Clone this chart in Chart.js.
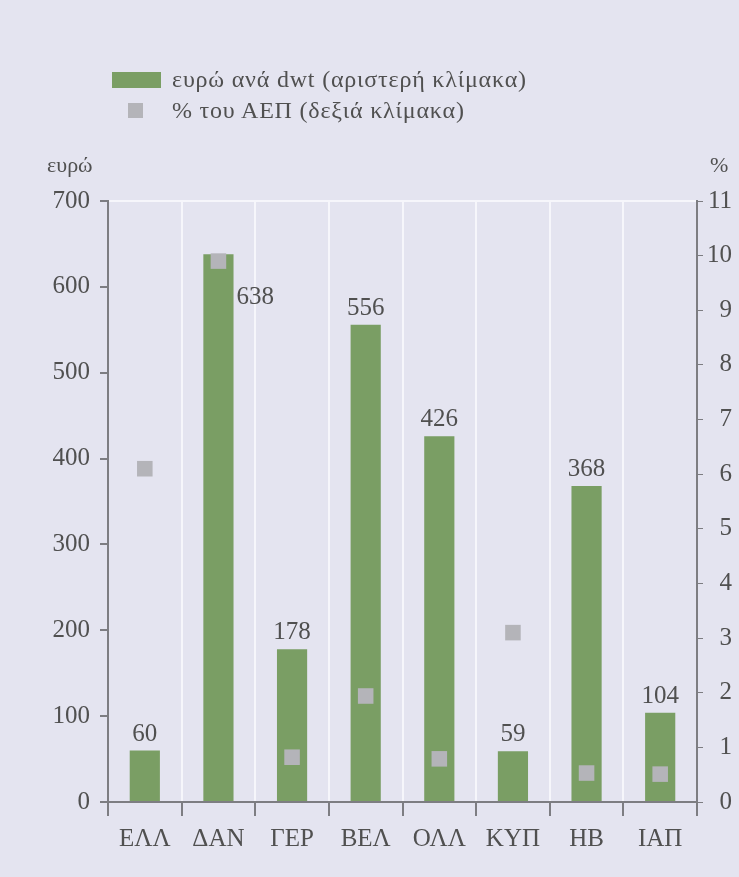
<!DOCTYPE html>
<html lang="el">
<head>
    <meta charset="UTF-8">
    <title>Ευρώ ανά dwt</title>
    <script src="https://cdn.jsdelivr.net/npm/chart.js"></script>
    <style>
        body { margin: 0; background: #e4e4f0; }
        .wrap { position: relative; width: 739px; height: 877px; font-family: "Liberation Serif", serif; color: #505050; }
        canvas { position: absolute; left: 0; top: 0; }
        .txt { position: absolute; font-size: 24px; line-height: 24px; white-space: nowrap; }
        .leg { letter-spacing: 0.8px; }
        .swatch { position: absolute; }
    </style>
</head>
<body>
<div class="wrap">
    <canvas id="c" width="739" height="877"></canvas>
    <div class="swatch" style="left:112px;top:72px;width:49px;height:16px;background:#7a9e64"></div>
    <div class="txt leg" style="left:172px;top:67px">ευρώ ανά dwt (αριστερή κλίμακα)</div>
    <div class="swatch" style="left:128px;top:103px;width:15px;height:15px;background:#b4b4b9"></div>
    <div class="txt leg" style="left:172px;top:98px">% του ΑΕΠ (δεξιά κλίμακα)</div>
    <div class="txt" style="left:47px;top:153px;font-size:22px">ευρώ</div>
    <div class="txt" style="left:710px;top:153px;font-size:22px">%</div>
</div>
<script>
    const countries = ['ΕΛΛ', 'ΔΑΝ', 'ΓΕΡ', 'ΒΕΛ', 'ΟΛΛ', 'ΚΥΠ', 'ΗΒ', 'ΙΑΠ'];
    const euroPerDwt = [60, 638, 178, 556, 426, 59, 368, 104];
    const pctOfGdp = [6.1, 9.9, 0.82, 1.94, 0.79, 3.1, 0.53, 0.51];

    const grey = '#7d7d82';
    const font = { family: 'Liberation Serif', size: 25 };

    // values over the bars; ΔΑΝ sits to the right because the marker covers its top
    const barLabels = {
        id: 'barLabels',
        afterDatasetsDraw(chart) {
            const ctx = chart.ctx;
            const meta = chart.getDatasetMeta(1);
            ctx.save();
            ctx.font = '25px "Liberation Serif"';
            ctx.fillStyle = '#505050';
            meta.data.forEach((bar, i) => {
                if (i === 1) {
                    ctx.textAlign = 'left';
                    ctx.textBaseline = 'middle';
                    ctx.fillText(euroPerDwt[i], bar.x + 18, bar.y + 43);
                } else {
                    ctx.textAlign = 'center';
                    ctx.textBaseline = 'bottom';
                    ctx.fillText(euroPerDwt[i], bar.x, bar.y - 4);
                }
            });
            ctx.restore();
        }
    };

    new Chart(document.getElementById('c'), {
        data: {
            labels: countries,
            datasets: [{
                type: 'line',
                label: '% του ΑΕΠ',
                data: pctOfGdp,
                yAxisID: 'y1',
                showLine: false,
                pointStyle: 'rect',
                pointRadius: 11,
                pointHoverRadius: 11,
                pointBackgroundColor: '#b4b4b9',
                pointBorderWidth: 0,
                order: 0
            }, {
                type: 'bar',
                label: 'ευρώ ανά dwt',
                data: euroPerDwt,
                yAxisID: 'y',
                backgroundColor: '#7a9e64',
                categoryPercentage: 1,
                barPercentage: 0.41,
                order: 1
            }]
        },
        options: {
            responsive: false,
            animation: false,
            layout: { padding: { top: 201, right: 7 } },
            plugins: { legend: { display: false }, tooltip: { enabled: false } },
            scales: {
                x: {
                    afterFit: s => { s.height = 75; },
                    grid: { offset: true, color: '#f6f6fb', lineWidth: 2, tickColor: grey, tickLength: 14 },
                    border: { color: grey, width: 2 },
                    ticks: { font: font, color: '#505050', padding: 8 }
                },
                y: {
                    position: 'left',
                    min: 0, max: 700,
                    afterFit: s => { s.width = 108; },
                    grid: {
                        color: c => c.tick.value === 700 ? '#f6f6fb' : 'transparent',
                        lineWidth: 2, tickColor: grey, tickLength: 8
                    },
                    border: { color: grey, width: 2 },
                    ticks: { stepSize: 100, font: font, color: '#505050', padding: 10 }
                },
                y1: {
                    position: 'right',
                    min: 0, max: 11,
                    afterFit: s => { s.width = 35; },
                    grid: { drawOnChartArea: false, tickColor: grey, tickLength: 6 },
                    border: { color: grey, width: 2 },
                    ticks: { stepSize: 1, font: font, color: '#505050', padding: 4, crossAlign: 'far' }
                }
            }
        },
        plugins: [barLabels]
    });
</script>
</body>
</html>
